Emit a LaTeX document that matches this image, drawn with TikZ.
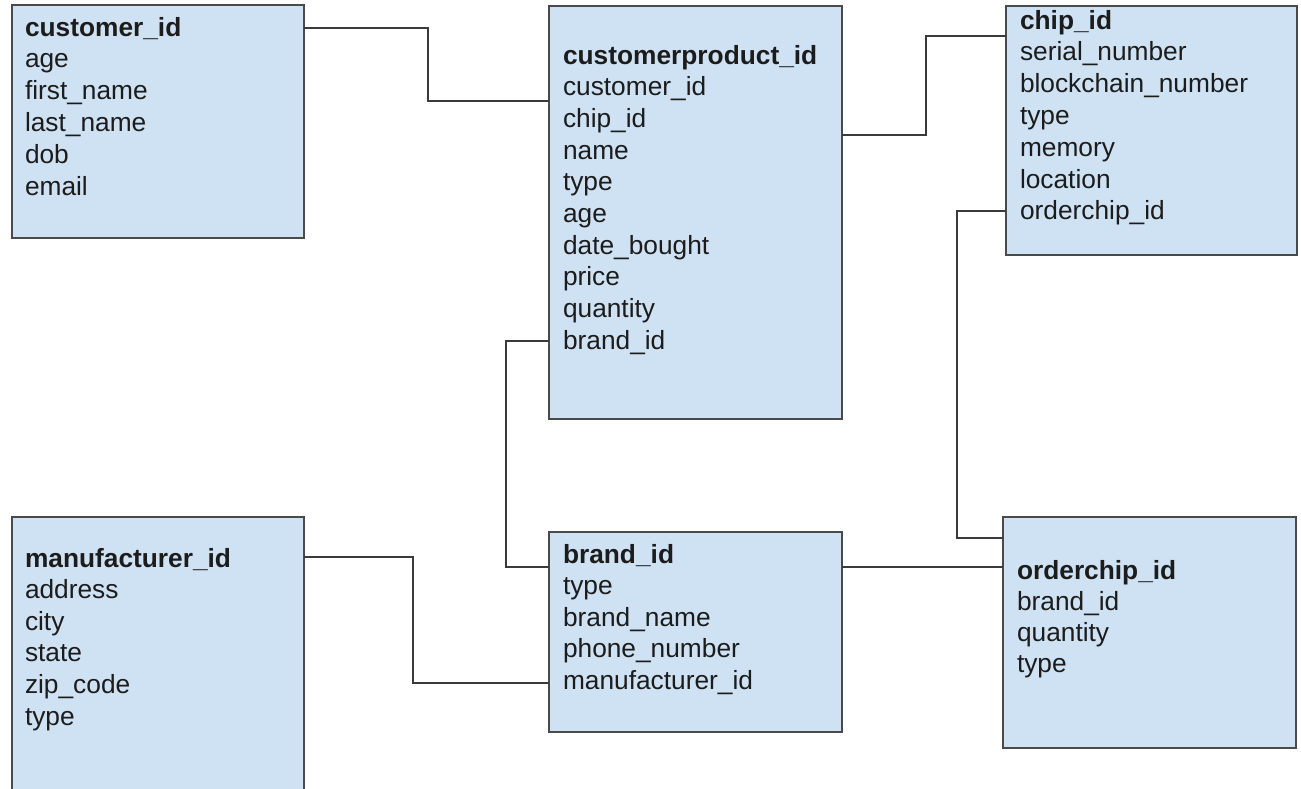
\documentclass[tikz,border=0pt]{standalone}
\usepackage{fontspec}
\setmainfont{Liberation Sans}
\definecolor{boxfill}{HTML}{CFE2F3}
\definecolor{boxline}{HTML}{4A4A4A}
\definecolor{txt}{HTML}{1C1C1C}
\definecolor{wire}{HTML}{3A3A3A}
\tikzset{
  tbl/.style={draw=boxline, fill=boxfill, line width=1.6pt, inner sep=0pt, outer sep=0pt, anchor=north west},
  fld/.style={inner sep=0pt, outer sep=0pt, anchor=base west, text=txt, font=\fontsize{26.3}{30}\selectfont},
  key/.style={fld, font=\fontsize{26.3}{30}\selectfont\bfseries},
  conn/.style={draw=wire, line width=1.4pt}
}
\begin{document}
\begin{tikzpicture}[x=1pt,y=-1pt]
\useasboundingbox (0,0) rectangle (1301,788);
\fill[white] (0,0) rectangle (1301,788);

% tables
\node[tbl, minimum width=292pt, minimum height=233pt] (cust) at (12,5) {};
\node[tbl, minimum width=293pt, minimum height=413pt] (cp) at (549,6) {};
\node[tbl, minimum width=291pt, minimum height=249pt] (chip) at (1006,6) {};
\node[tbl, minimum width=292pt, minimum height=290pt] (manu) at (12,517) {};
\node[tbl, minimum width=293pt, minimum height=200pt] (brand) at (549,532) {};
\node[tbl, minimum width=293pt, minimum height=231pt] (oc) at (1003,517) {};

% customer
\node[key] (cust-k) at (25,36) {customer\_id};
\foreach \t [count=\i from 0] in {age,first\_name,last\_name,dob,email}
  \node[fld] (cust-\i) at (25,67.8+31.8*\i) {\t};

% customerproduct
\node[key] (cp-k) at (563,64) {customerproduct\_id};
\foreach \t [count=\i from 0] in {customer\_id,chip\_id,name,type,age,date\_bought,price,quantity,brand\_id}
  \node[fld] (cp-\i) at (563,95.7+31.7*\i) {\t};

% chip
\node[key] (chip-k) at (1020,29) {chip\_id};
\foreach \t [count=\i from 0] in {serial\_number,blockchain\_number,type,memory,location,orderchip\_id}
  \node[fld] (chip-\i) at (1020,60.8+31.8*\i) {\t};

% manufacturer
\node[key] (manu-k) at (25,567) {manufacturer\_id};
\foreach \t [count=\i from 0] in {address,city,state,zip\_code,type}
  \node[fld] (manu-\i) at (25,598.6+31.6*\i) {\t};

% brand
\node[key] (brand-k) at (563,563) {brand\_id};
\foreach \t [count=\i from 0] in {type,brand\_name,phone\_number,manufacturer\_id}
  \node[fld] (brand-\i) at (563,594.5+31.5*\i) {\t};

% orderchip
\node[key] (oc-k) at (1017,579) {orderchip\_id};
\foreach \t [count=\i from 0] in {brand\_id,quantity,type}
  \node[fld] (oc-\i) at (1017,610+31*\i) {\t};

% connectors
\draw[conn] ([yshift=-23pt]cust.north east) -| (428,64) |- ([yshift=-95pt]cp.north west);
\draw[conn] ([yshift=-129pt]cp.north east) -| (926,80) |- ([yshift=-30pt]chip.north west);
\draw[conn] ([yshift=-205pt]chip.north west) -| (957,400) |- ([yshift=-21pt]oc.north west);
\draw[conn] ([yshift=-335pt]cp.north west) -| (506,450) |- ([yshift=-35pt]brand.north west);
\draw[conn] ([yshift=-35pt]brand.north east) -- ([yshift=-50pt]oc.north west);
\draw[conn] ([yshift=-40pt]manu.north east) -| (413,620) |- ([yshift=-151pt]brand.north west);
\end{tikzpicture}
\end{document}
